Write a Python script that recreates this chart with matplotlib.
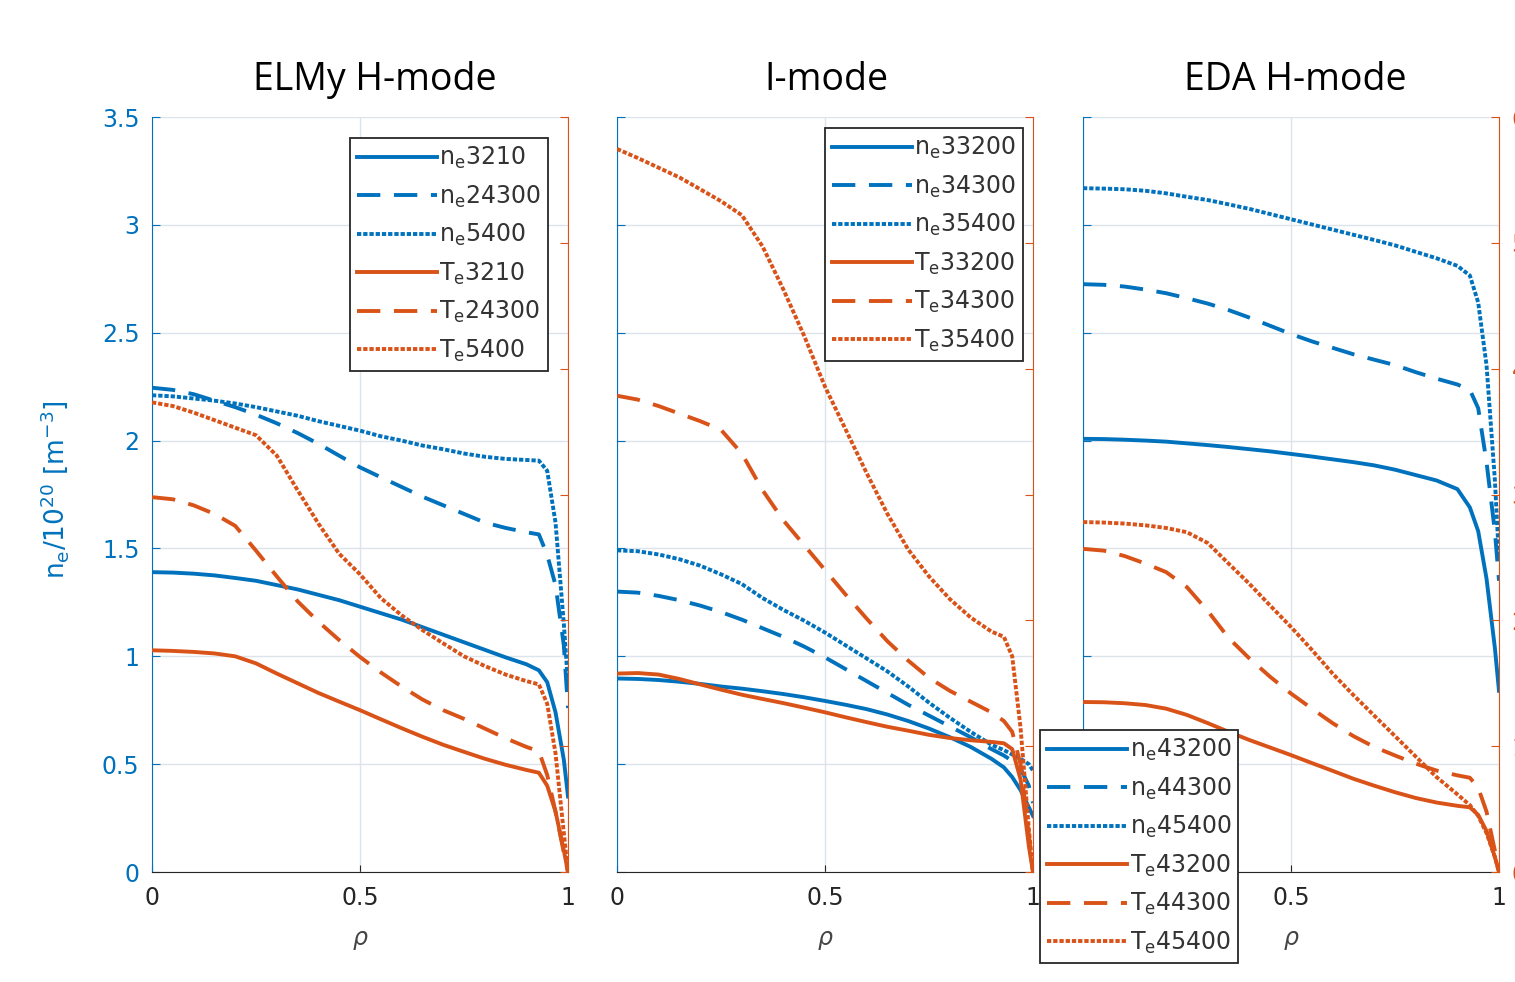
import numpy as np
import matplotlib
matplotlib.use("Agg")
import matplotlib.pyplot as plt

# normalised radius, shared by every profile
rho = [0.00, 0.05, 0.10, 0.15, 0.20, 0.25, 0.30, 0.35, 0.40, 0.45, 0.50, 0.55,
       0.60, 0.65, 0.70, 0.75, 0.80, 0.85, 0.90, 0.93, 0.95, 0.97, 0.99, 1.00]

# ELMy H-mode: density [1e20 m^-3] and temperature [keV]
elmy_ne_3210 = [1.39, 1.388, 1.383, 1.375, 1.363, 1.35, 1.33, 1.31, 1.285, 1.26, 1.23, 1.20,
                1.17, 1.135, 1.10, 1.065, 1.03, 0.995, 0.963, 0.935, 0.88, 0.74, 0.52, 0.35]
elmy_ne_24300 = [2.245, 2.235, 2.215, 2.185, 2.155, 2.12, 2.08, 2.035, 1.985, 1.93, 1.876, 1.83,
                 1.785, 1.74, 1.70, 1.66, 1.62, 1.595, 1.575, 1.565, 1.47, 1.33, 1.05, 0.76]
elmy_ne_5400 = [2.21, 2.205, 2.195, 2.185, 2.172, 2.155, 2.135, 2.115, 2.09, 2.068, 2.046, 2.02,
                2.0, 1.977, 1.96, 1.94, 1.925, 1.915, 1.91, 1.907, 1.86, 1.62, 1.15, 0.87]
elmy_te_3210 = [1.762, 1.757, 1.749, 1.737, 1.714, 1.658, 1.577, 1.50, 1.423, 1.354, 1.286, 1.214,
                1.143, 1.075, 1.011, 0.955, 0.90, 0.852, 0.811, 0.789, 0.686, 0.48, 0.171, 0.0]
elmy_te_24300 = [2.979, 2.962, 2.914, 2.846, 2.751, 2.554, 2.349, 2.151, 1.989, 1.843, 1.709, 1.586,
                 1.474, 1.371, 1.286, 1.217, 1.14, 1.063, 0.994, 0.96, 0.771, 0.48, 0.154, 0.0]
elmy_te_5400 = [3.732, 3.703, 3.651, 3.591, 3.531, 3.471, 3.309, 3.034, 2.769, 2.529, 2.366, 2.177,
                2.040, 1.923, 1.817, 1.714, 1.637, 1.569, 1.517, 1.491, 1.337, 0.943, 0.309, 0.0]

# I-mode
imode_ne_33200 = [0.897, 0.895, 0.89, 0.882, 0.872, 0.86, 0.85, 0.838, 0.825, 0.81, 0.793, 0.775,
                  0.755, 0.73, 0.70, 0.665, 0.625, 0.58, 0.525, 0.485, 0.44, 0.38, 0.30, 0.26]
imode_ne_34300 = [1.30, 1.295, 1.28, 1.26, 1.235, 1.205, 1.17, 1.13, 1.09, 1.045, 0.995, 0.94,
                  0.885, 0.83, 0.775, 0.725, 0.675, 0.625, 0.57, 0.54, 0.515, 0.48, 0.40, 0.32]
imode_ne_35400 = [1.491, 1.487, 1.472, 1.45, 1.42, 1.38, 1.335, 1.27, 1.215, 1.165, 1.11, 1.05,
                  0.99, 0.93, 0.86, 0.785, 0.715, 0.65, 0.59, 0.565, 0.545, 0.525, 0.50, 0.47]
imode_te_33200 = [1.577, 1.581, 1.569, 1.534, 1.491, 1.449, 1.409, 1.375, 1.342, 1.306, 1.269, 1.229,
                  1.191, 1.154, 1.123, 1.090, 1.065, 1.047, 1.034, 1.023, 0.977, 0.737, 0.206, 0.0]
imode_te_34300 = [3.785, 3.754, 3.703, 3.643, 3.583, 3.514, 3.326, 3.034, 2.794, 2.597, 2.40, 2.203,
                  2.014, 1.834, 1.68, 1.543, 1.44, 1.354, 1.269, 1.20, 1.114, 0.857, 0.291, 0.0]
imode_te_35400 = [5.746, 5.674, 5.597, 5.52, 5.426, 5.331, 5.22, 4.971, 4.629, 4.26, 3.857, 3.514,
                  3.171, 2.846, 2.563, 2.349, 2.169, 2.023, 1.911, 1.869, 1.714, 1.149, 0.343, 0.0]

# EDA H-mode
eda_ne_43200 = [2.008, 2.007, 2.004, 2.0, 1.995, 1.987, 1.979, 1.97, 1.96, 1.95, 1.938, 1.926,
                1.913, 1.90, 1.885, 1.865, 1.84, 1.815, 1.775, 1.69, 1.58, 1.36, 1.04, 0.84]
eda_ne_44300 = [2.725, 2.722, 2.714, 2.70, 2.683, 2.66, 2.635, 2.605, 2.57, 2.532, 2.494, 2.46,
                2.43, 2.40, 2.375, 2.35, 2.317, 2.287, 2.26, 2.235, 2.15, 1.90, 1.58, 1.35]
eda_ne_45400 = [3.17, 3.168, 3.165, 3.158, 3.146, 3.13, 3.115, 3.095, 3.074, 3.05, 3.026, 3.002,
                2.978, 2.954, 2.93, 2.905, 2.875, 2.845, 2.81, 2.765, 2.64, 2.35, 1.82, 1.45]
eda_te_43200 = [1.351, 1.349, 1.341, 1.327, 1.298, 1.248, 1.183, 1.114, 1.049, 0.989, 0.929, 0.866,
                0.804, 0.741, 0.686, 0.634, 0.588, 0.552, 0.526, 0.514, 0.454, 0.326, 0.12, 0.0]
eda_te_44300 = [2.568, 2.554, 2.511, 2.451, 2.383, 2.263, 2.074, 1.86, 1.697, 1.551, 1.418, 1.299,
                1.183, 1.08, 0.994, 0.926, 0.861, 0.806, 0.768, 0.749, 0.669, 0.48, 0.171, 0.0]
eda_te_45400 = [2.781, 2.777, 2.769, 2.755, 2.734, 2.70, 2.614, 2.451, 2.290, 2.117, 1.947, 1.766,
                1.577, 1.406, 1.243, 1.08, 0.917, 0.754, 0.617, 0.531, 0.446, 0.309, 0.12, 0.0]

titles = ["ELMy H-mode", "I-mode", "EDA H-mode"]
shots = [["3210", "24300", "5400"], ["33200", "34300", "35400"], ["43200", "44300", "45400"]]
ne_sets = [[elmy_ne_3210, elmy_ne_24300, elmy_ne_5400],
           [imode_ne_33200, imode_ne_34300, imode_ne_35400],
           [eda_ne_43200, eda_ne_44300, eda_ne_45400]]
te_sets = [[elmy_te_3210, elmy_te_24300, elmy_te_5400],
           [imode_te_33200, imode_te_34300, imode_te_35400],
           [eda_te_43200, eda_te_44300, eda_te_45400]]

BLUE = "#0072BD"
ORANGE = "#D95319"
DARK = "#262626"
W, H = 1515, 982

styles = ["-", (0, (6, 3.5)), (0, (1.1, 0.5))]

fig = plt.figure(figsize=(W / 100, H / 100), dpi=100)
fig.patch.set_facecolor("white")

lefts = [152, 617, 1083]
ax_w, top, bottom = 416, 117, 872
title_x = [375, 826, 1295]
legend_anchor = [(548, 138, "upper right"), (1023, 128, "upper right"), (1040, 730, "upper left")]

for i in range(3):
    ax = fig.add_axes([lefts[i] / W, 1 - bottom / H, ax_w / W, (bottom - top) / H])
    ax2 = ax.twinx()

    handles = []
    for ne, ls in zip(ne_sets[i], styles):
        ln, = ax.plot(rho, ne, color=BLUE, lw=2.8, ls=ls, dash_capstyle="butt")
        handles.append(ln)
    for te, ls in zip(te_sets[i], styles):
        ln, = ax2.plot(rho, te, color=ORANGE, lw=2.8, ls=ls, dash_capstyle="butt")
        handles.append(ln)
    labels = [r"n$_\mathrm{e}$" + s for s in shots[i]] + [r"T$_\mathrm{e}$" + s for s in shots[i]]

    ax.set_xlim(0, 1)
    ax.set_ylim(0, 3.5)
    ax2.set_ylim(0, 6)
    ax.set_xticks([0, 0.5, 1])
    ax.set_xticklabels(["0", "0.5", "1"])
    ax.set_yticks(np.arange(0, 3.51, 0.5))
    ax.set_yticklabels(["0", "0.5", "1", "1.5", "2", "2.5", "3", "3.5"])
    ax2.set_yticks(range(7))

    ax.grid(True, color="#dde3ea", lw=1.0)
    ax.set_axisbelow(True)

    ax.tick_params(axis="x", direction="in", length=5, colors=DARK, labelsize=17, pad=10)
    ax.tick_params(axis="y", direction="in", length=6, colors=BLUE, labelsize=17, pad=9,
                   labelleft=(i == 0))
    ax2.tick_params(axis="y", direction="in", length=6, colors=ORANGE, labelsize=17, pad=9,
                    labelright=(i == 2))

    ax.spines["left"].set_color(BLUE)
    ax.spines["bottom"].set_color(DARK)
    ax.spines["top"].set_visible(False)
    ax.spines["right"].set_visible(False)
    ax2.spines["right"].set_color(ORANGE)
    for s in ["left", "top", "bottom"]:
        ax2.spines[s].set_visible(False)

    ax.text(0.5, -0.09, r"$\rho$", transform=ax.transAxes, ha="center", va="center",
            fontsize=17, color="#444444")
    ax.text((title_x[i] - lefts[i]) / ax_w, (bottom - 80) / (bottom - top), titles[i],
            transform=ax.transAxes, ha="center", va="center", fontsize=27,
            family="Open Sans", color="black")

    lx, ly, loc = legend_anchor[i]
    leg_kw = dict(loc=loc, bbox_to_anchor=(lx / W, 1 - ly / H), bbox_transform=fig.transFigure,
                  fontsize=17, handlelength=3.4, handletextpad=0.1, labelspacing=0.52,
                  borderpad=0.3, borderaxespad=0, fancybox=False, framealpha=1,
                  edgecolor=DARK, facecolor="white")
    if i < 2:
        leg = ax2.legend(handles, labels, **leg_kw)
    else:
        leg = fig.legend(handles, labels, **leg_kw)
    leg.get_frame().set_linewidth(1.3)
    for t in leg.get_texts():
        t.set_color("#333333")

fig.text(55 / W, 1 - 490 / H, r"n$_\mathrm{e}$/10$^{20}$ [m$^{-3}$]", rotation=90,
         ha="center", va="center", fontsize=19, color=BLUE)

fig.savefig("out.png", dpi=100)
